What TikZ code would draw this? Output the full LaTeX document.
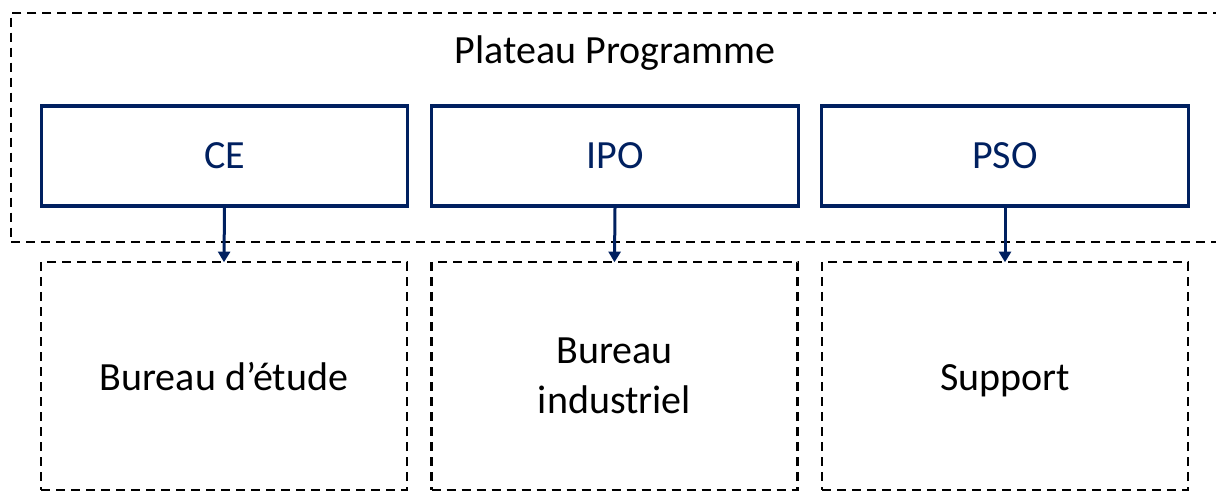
\documentclass[tikz,border=0pt]{standalone}
\usepackage{fontspec}
\setmainfont{Carlito}
\usetikzlibrary{arrows.meta}
\definecolor{navy}{RGB}{0,32,96}
\tikzset{every picture/.style={line width=0.75pt}}
\tikzset{
  dashbox/.style={draw=black, line width=1.6pt, dash pattern={on 6.75pt off 4.5pt}},
  rolebox/.style={draw=navy, line width=2.4pt, text=navy, minimum width=275pt, minimum height=75pt, inner sep=0pt, font=\fontsize{30}{36}\selectfont},
  unitbox/.style={dashbox, minimum width=274.5pt, minimum height=171pt, inner sep=0pt, align=center, font=\fontsize{30}{37.5}\selectfont},
  oneline/.style={text height=25.5pt, text depth=4.5pt},
  link/.style={draw=navy, line width=2.25pt, -{Triangle[width=9pt,length=8pt]}, shorten >=-1pt}
}
\begin{document}
\begin{tikzpicture}[x=0.75pt,y=0.75pt,yscale=-1,xscale=1]
\useasboundingbox (0,0) rectangle (1216,491);
\clip (0,0) rectangle (1216,491);

% Plateau
\node [dashbox, minimum width=908pt, minimum height=171.75pt, inner sep=0pt] (plateau) at (616.5,127.5) {};
\node [font=\fontsize{30}{36}\selectfont] (titre) at (615,53) {Plateau Programme};

% roles
\node [rolebox] (ce) at (224.5,156) {CE};
\node [rolebox] (ipo) at (615,156) {IPO};
\node [rolebox] (pso) at (1005,156) {PSO};

% services
\node [unitbox, oneline] (be) at (224,376) {Bureau d’étude};
\node [unitbox] (bi) at (614.5,376) {Bureau\\industriel};
\node [unitbox, oneline] (sup) at (1005,376) {Support};

% liens
\draw [link] (ce.south) -- (be.north);
\draw [link] (ipo.south) -- (bi.north);
\draw [link] (pso.south) -- (sup.north);

\end{tikzpicture}
\end{document}
